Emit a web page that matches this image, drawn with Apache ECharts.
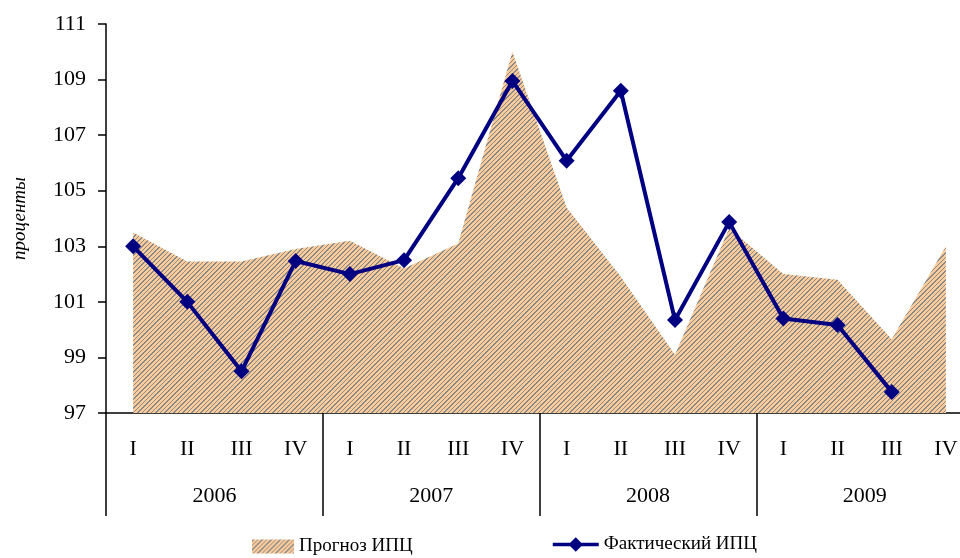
<!DOCTYPE html>
<html><head><meta charset="utf-8">
<script src="https://cdn.jsdelivr.net/npm/echarts@6/dist/echarts.min.js"></script>
<style>html,body{margin:0;padding:0;background:#fff}#c{width:960px;height:558px}</style>
</head><body><div id="c"></div>
<script>
const quarters = ['I','II','III','IV','I','II','III','IV','I','II','III','IV','I','II','III','IV'];
const years = ['2006','2007','2008','2009'];
const forecastCPI = [103.5,102.45,102.45,102.9,103.2,102.2,103.1,110.0,104.4,101.9,99.1,103.65,102.0,101.8,99.65,103.0];
const actualCPI = [103.0,101.0,98.5,102.47,102.0,102.5,105.45,108.95,106.08,108.6,100.35,103.87,100.4,100.17,97.76,null];
const yTicks = {min:97, max:111, interval:2};

function makePattern(){
  const c = document.createElement('canvas');
  const n = 9; c.width = n; c.height = n;
  const g = c.getContext('2d');
  const grey = [0,1,5];
  for(let x=0;x<n;x++){for(let y=0;y<n;y++){
    const k = (x+y)%n;
    g.fillStyle = (grey.indexOf(k) >= 0) ? '#8a8a8a' : '#ffcc99';
    g.fillRect(x,y,1,1);
  }}
  return {image:c, repeat:'repeat'};
}
const pat = makePattern();
const font = '"Liberation Serif","Times New Roman",serif';
const chart = echarts.init(document.getElementById('c'), null, {renderer:'canvas'});
chart.setOption({
  animation:false,
  backgroundColor:'#fff',
  grid:{left:106, top:24, bottom:145, right:-13, outerBoundsMode:'none', containLabel:false},
  xAxis:[{
    type:'category', data:quarters, boundaryGap:true,
    axisLine:{lineStyle:{color:'#000', width:1.5}},
    axisTick:{show:true, length:103, lineStyle:{color:'#000', width:1.5},
      interval:function(i){return i%4===0;}},
    axisLabel:{color:'#000', fontFamily:font, fontSize:22, margin:25, interval:0}
  },{
    type:'category', data:years, position:'bottom', boundaryGap:true,
    axisLine:{show:false}, axisTick:{show:false},
    axisLabel:{color:'#000', fontFamily:font, fontSize:22, margin:72, interval:0}
  }],
  yAxis:{
    type:'value', min:yTicks.min, max:yTicks.max, interval:yTicks.interval,
    name:'проценты', nameLocation:'middle', nameGap:77, nameRotate:90,
    nameTextStyle:{color:'#000', fontFamily:font, fontSize:19, fontStyle:'italic'},
    axisLine:{show:true, lineStyle:{color:'#000', width:1.5}},
    axisTick:{show:true, length:8, lineStyle:{color:'#000', width:1.5}},
    axisLabel:{color:'#000', fontFamily:font, fontSize:22, margin:20},
    splitLine:{show:false}
  },
  legend:[{
    left:247, top:532, itemWidth:42, itemHeight:14, itemGap:6,
    textStyle:{color:'#000', fontFamily:font, fontSize:19},
    data:[{name:'Прогноз ИПЦ', icon:'rect', itemStyle:{color:pat}}]
  },{
    left:546, top:530, itemWidth:46, itemHeight:18, itemGap:4,
    lineStyle:{width:3.5, color:'#000080'},
    textStyle:{color:'#000', fontFamily:font, fontSize:19},
    data:[{name:'Фактический ИПЦ'}]
  }],
  series:[{
    name:'Прогноз ИПЦ', type:'line', data:forecastCPI, symbol:'none',
    lineStyle:{width:0}, itemStyle:{color:pat},
    areaStyle:{color:pat, opacity:1, origin:'start'}, z:1
  },{
    name:'Фактический ИПЦ', type:'line', data:actualCPI, symbol:'diamond', symbolSize:16,
    lineStyle:{color:'#000080', width:4}, itemStyle:{color:'#000080'}, z:3
  }]
});
</script></body></html>
